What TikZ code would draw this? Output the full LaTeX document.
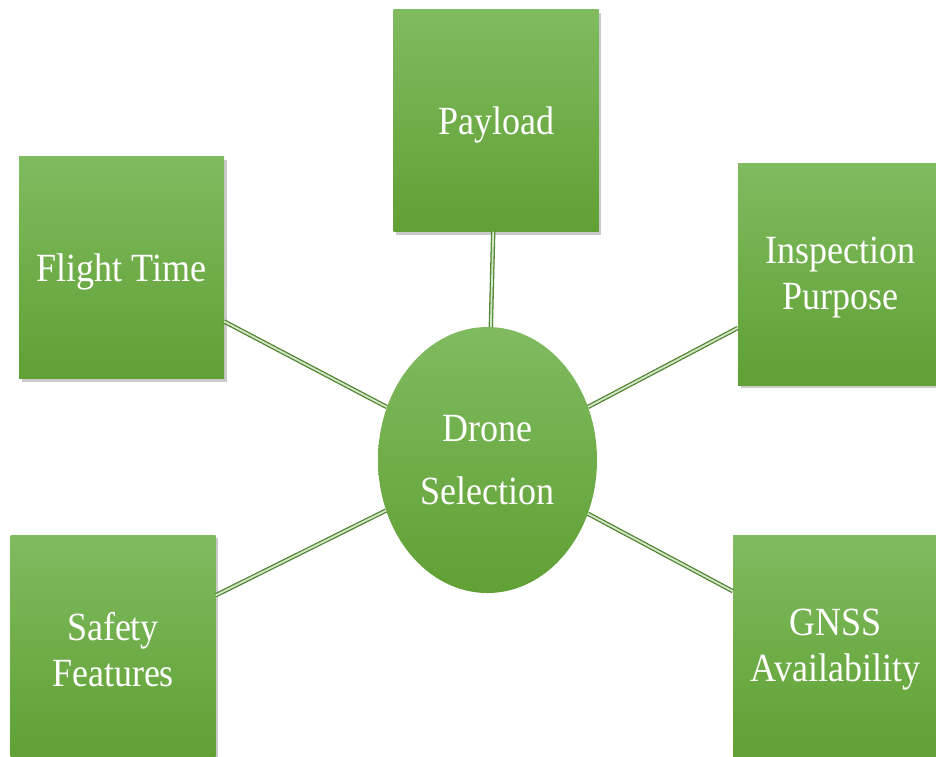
\documentclass[tikz,border=0pt]{standalone}
\usepackage{fontspec}
\setmainfont{Liberation Serif}[FakeStretch=0.9]
\usetikzlibrary{shapes.geometric,shadows}
\definecolor{gtop}{RGB}{128,187,96}
\definecolor{gbot}{RGB}{96,160,52}
\definecolor{linkdark}{RGB}{82,134,50}
\definecolor{linklight}{RGB}{212,230,200}
\tikzset{
  gbox/.style={rectangle, inner sep=0pt, minimum width=205pt, minimum height=222pt,
    top color=gtop, bottom color=gbot,
    drop shadow={shadow xshift=2.5pt, shadow yshift=-3pt, opacity=0.35, fill=black!60}},
  btxt/.style={text=white, align=center, yshift=-4pt, font=\fontsize{40}{46}\selectfont},
  gell/.style={ellipse, inner sep=0pt, minimum width=219pt, minimum height=266pt,
    top color=gtop, bottom color=gbot, text=white, align=center,
    font=\fontsize{40}{63}\selectfont},
  link/.style={draw=linkdark, line width=1.3pt, double=linklight, double distance=1.8pt}
}
\begin{document}
\begin{tikzpicture}[x=1pt,y=-1pt]
\useasboundingbox (0,0) rectangle (936,756);
\clip (0,0) rectangle (936,756);
\node[gbox, label={[btxt]center:Payload}] (pay) at (496,120.5) {};
\node[gbox, label={[btxt]center:Flight Time}] (flt) at (121.5,267.5) {};
\node[gbox, label={[btxt]center:{Inspection\\Purpose}}] (ins) at (840.5,274) {};
\node[gbox, label={[btxt]center:{Safety\\Features}}] (saf) at (113,646) {};
\node[gbox, label={[btxt]center:{GNSS\\Availability}}] (gns) at (835.5,646) {};
\node[gell] (drn) at (487.5,460) {Drone\\Selection};
\draw[link] (drn) -- (pay);
\draw[link] (drn) -- (flt);
\draw[link] (drn) -- (ins);
\draw[link] (drn) -- (saf);
\draw[link] (drn) -- (gns);
\end{tikzpicture}
\end{document}
